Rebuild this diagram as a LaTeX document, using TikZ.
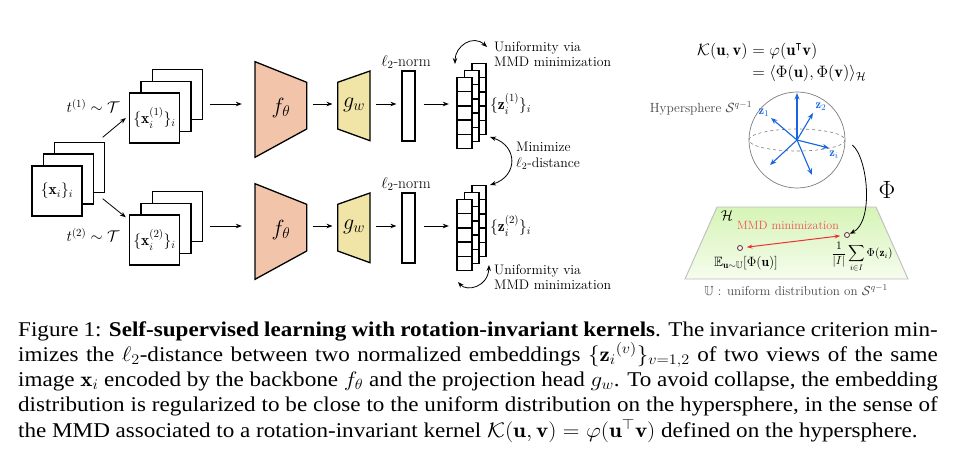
\RequirePackage{fix-cm}
\documentclass[tikz,border=0pt]{standalone}
\usepackage{amsmath,amssymb}
\usepackage{fontspec}
\newfontfamily\capfont{Liberation Serif}
\usetikzlibrary{arrows.meta,calc}
\definecolor{fcol}{RGB}{242,196,170}
\definecolor{gcol}{RGB}{240,228,166}
\definecolor{zblue}{RGB}{25,100,225}
\definecolor{mmdred}{RGB}{236,50,50}
\definecolor{txtgray}{RGB}{70,70,70}
\definecolor{sphgray}{RGB}{125,125,125}
\definecolor{planetop}{RGB}{214,244,182}
\definecolor{planebot}{RGB}{246,252,238}
\definecolor{planeedge}{RGB}{190,190,190}
\definecolor{ptcol}{RGB}{90,40,40}
\tikzset{
  x=1pt, y=-1pt,
  box/.style={draw, line width=1.3pt, fill=white, minimum width=50, minimum height=50, inner sep=0},
  cellbox/.style={draw, line width=1.3pt, fill=white},
  lbl/.style={font=\fontsize{15.5}{18}\selectfont, inner sep=0},
  ann/.style={font=\fontsize{13.8}{15.5}\selectfont, align=left, inner sep=0},
  rlbl/.style={font=\fontsize{14.3}{17}\selectfont, inner sep=0},
  big/.style={font=\fontsize{22}{24}\selectfont, inner sep=0},
  arr/.style={-{Stealth[length=6pt,width=4.5pt]}, line width=0.8pt},
  darr/.style={{Stealth[length=6pt,width=4.5pt]}-{Stealth[length=6pt,width=4.5pt]}, line width=0.8pt},
  varr/.style={-{Stealth[length=6.5pt,width=5pt]}, line width=1.1pt, zblue},
  rarr/.style={{Stealth[length=5.5pt,width=4pt]}-{Stealth[length=5.5pt,width=4pt]}, line width=1pt, mmdred, shorten <=4pt, shorten >=4pt},
  trap/.style={draw, line width=1.3pt},
  pt/.style={circle, draw=ptcol, fill=white, line width=0.8pt, minimum size=5, inner sep=0},
  capline/.style={anchor=base west, inner sep=0, font=\capfont\fontsize{21}{25}\selectfont},
}
\newcommand{\capl}[1]{\scalebox{1.1}[1]{\hbox to 836pt{#1}}}
\begin{document}
\begin{tikzpicture}
\useasboundingbox (0,0) rectangle (958,461);

% input stack
\node[box] (x3) at (79.5,167.5) {};
\node[box] (x2) at (68.5,179) {};
\node[box] (x1) at (57,191) {};
\node[lbl] at (x1) {$\{\mathbf{x}_i\}_i$};

% two branches
\foreach \r in {1,2} {
  \pgfmathsetmacro\dy{(\r-1)*122}
  % view stack
  \node[box] (v\r c) at (177.5,94.5+\dy) {};
  \node[box] (v\r b) at (166,106.5+\dy) {};
  \node[box] (v\r a) at (154.5,118+\dy) {};
  \node[lbl] at (v\r a) {$\{\mathbf{x}_i^{(\r)}\}_i$};
  % f trapezoid
  \filldraw[trap, fill=fcol] (255,61.7+\dy) -- (306.7,82.3+\dy) -- (306.7,129+\dy) -- (255,157.3+\dy) -- cycle;
  \node[minimum width=51.7, minimum height=1, inner sep=0] (f\r) at (280.85,104+\dy) {};
  \node[big] at (281,108+\dy) {$f_\theta$};
  % g trapezoid
  \filldraw[trap, fill=gcol] (337.7,82.3+\dy) -- (370,71+\dy) -- (370,140.7+\dy) -- (337.7,129+\dy) -- cycle;
  \node[minimum width=32.3, minimum height=1, inner sep=0] (g\r) at (353.85,104+\dy) {};
  \node[big] at (354,105+\dy) {$g_w$};
  % norm box
  \node[draw, line width=1.3pt, fill=white, minimum width=13, minimum height=70, inner sep=0] (n\r) at (408.5,106+\dy) {};
  \node[lbl] at (406,62+\dy) {$\ell_2$-norm};
  % z stack
  \foreach \xo/\yo/\w in {15/-14/14, 7.5/-7/14.5, 0/0/15} {
    \foreach \k in {0,...,4} {
      \draw[cellbox] (457+\xo,77.5+\yo+14.2*\k+\dy) rectangle ++(\w,14.2);
    }
  }
  \node[minimum width=15, minimum height=71, inner sep=0] (z\r) at (464.5,113+\dy) {};
  \node[lbl, anchor=west] at (490,104+\dy) {$\{\mathbf{z}_i^{(\r)}\}_i$};
  % arrows along the row
  \draw[arr] ($(v\r c.east |- f\r.west)+(7,0)$) -- ($(f\r.west)+(-13,0)$);
  \draw[arr] ($(f\r.east)+(6,0)$) -- ($(g\r.west)+(-5,0)$);
  \draw[arr] ($(g\r.east)+(6,0)$) -- ($(n\r.west |- g\r.east)+(-5,0)$);
  \draw[arr] ($(n\r.east |- g\r.east)+(8,0)$) -- ($(z\r.west |- g\r.east)+(-8,0)$);
}

% augmentation arrows
\draw[arr] ($(x3.north east)+(-2.5,-4.5)$) -- ($(v1a.west)+(-3,0)$);
\draw[arr] ($(x3.south east)+(-2.5,5.5)$) -- ($(v2a.north west)+(-3,3)$);
\node[lbl] at (93,106) {$t^{(1)}\sim\mathcal{T}$};
\node[lbl] at (93,235) {$t^{(2)}\sim\mathcal{T}$};

% uniformity / minimize annotations
\coordinate (ua) at (455,64);
\coordinate (ub) at (487,47);
\draw[darr] (ua) .. controls (455,46) and (473,34) .. (ub);
\node[ann, anchor=west] at (494,54) {Uniformity via\\MMD minimization};
\coordinate (la) at (458,282);
\coordinate (lb) at (489,265);
\draw[darr] (la) .. controls (467,292) and (488,287) .. (lb);
\node[ann, anchor=west] at (494,277) {Uniformity via\\MMD minimization};
\coordinate (ma) at (490,137);
\coordinate (mb) at (490,185);
\draw[darr] (ma) .. controls (518,146) and (518,176) .. (mb);
\node[ann, anchor=west] at (516,156) {Minimize\\$\ell_2$-distance};

% kernel equation
\node[font=\fontsize{16.5}{19}\selectfont, inner sep=0, anchor=west] at (697,63) {$\begin{aligned}\mathcal{K}(\mathbf{u},\mathbf{v}) &= \varphi(\mathbf{u}^{\intercal}\mathbf{v})\\ &= \langle\Phi(\mathbf{u}),\Phi(\mathbf{v})\rangle_{\mathcal{H}}\end{aligned}$};

% hypersphere
\node[font=\fontsize{13.3}{16}\selectfont, inner sep=0, text=txtgray] at (701,108) {Hypersphere $\mathcal{S}^{q-1}$};
\node[circle, draw=sphgray, line width=0.7pt, minimum size=96, inner sep=0] (sph) at (797,140) {};
\draw[sphgray, dashed, line width=0.6pt] (sph.center) ellipse [x radius=48, y radius=11];
\coordinate (O) at (797,140);
\foreach \n/\p in {vu/{797,93}, vz2/{813,113}, vz1/{771,118}, vzi/{829,148}, vll/{770,165}, vlo/{812,175}} {
  \coordinate (\n) at (\p);
  \draw[varr] (O) -- (\n);
}
\node[font=\fontsize{12.5}{14}\selectfont, text=zblue, inner sep=0] at (764,113) {$\mathbf{z}_1$};
\node[font=\fontsize{12.5}{14}\selectfont, text=zblue, inner sep=0] at (821,107) {$\mathbf{z}_2$};
\node[font=\fontsize{12.5}{14}\selectfont, text=zblue, inner sep=0] at (834,155) {$\mathbf{z}_i$};

% feature space plane
\shade[top color=planetop, bottom color=planebot] (717,207) -- (876,207) -- (908,279) -- (685,279) -- cycle;
\draw[planeedge, line width=0.9pt] (717,207) -- (876,207) -- (908,279) -- (685,279) -- cycle;
\node[rlbl] at (727,216) {$\mathcal{H}$};
\node[pt] (pU) at (740,248) {};
\node[pt] (pZ) at (847,235) {};
\draw[rarr] (pU) -- (pZ);
\node[font=\fontsize{12}{14}\selectfont, text=mmdred!85, inner sep=0] at (788,225) {MMD minimization};
\node[font=\fontsize{13.5}{15}\selectfont, inner sep=0] at (746,263) {$\mathbb{E}_{\mathbf{u}\sim\mathbb{U}}[\Phi(\mathbf{u})]$};
\node[font=\fontsize{11.5}{13}\selectfont, inner sep=0] at (862,257) {$\displaystyle\frac{1}{|I|}\sum_{i\in I}\Phi(\mathbf{z}_i)$};
\node[font=\fontsize{13}{15}\selectfont, text=txtgray, inner sep=0] at (796,290) {$\mathbb{U}$ : uniform distribution on $\mathcal{S}^{q-1}$};

% Phi map
\draw[arr] ($(sph.east)+(7,5)$) .. controls (868,158) and (874,222) .. (pZ);
\node[font=\fontsize{25}{27}\selectfont, inner sep=0] at (887,190) {$\Phi$};

% caption
\node[capline] (c1) at (18,336) {\capl{Figure 1: \textbf{Self-supervised learning with rotation-invariant kernels}. The invariance criterion min-}};
\node[capline] (c2) at (18,361) {\capl{imizes the $\ell_2$-distance between two normalized embeddings $\{\mathbf{z}_i{}^{(v)}\}_{v=1,2}$ of two views of the same}};
\node[capline] (c3) at (18,386) {\capl{image $\mathbf{x}_i$ encoded by the backbone $f_\theta$ and the projection head $g_w$. To avoid collapse, the embedding}};
\node[capline] (c4) at (18,411) {\capl{distribution is regularized to be close to the uniform distribution on the hypersphere, in the sense of}};
\node[capline] (c5) at (18,437) {\scalebox{1.1}[1]{the MMD associated to a rotation-invariant kernel $\mathcal{K}(\mathbf{u},\mathbf{v}) = \varphi(\mathbf{u}^\top\mathbf{v})$ defined on the hypersphere.}};
\end{tikzpicture}
\end{document}
